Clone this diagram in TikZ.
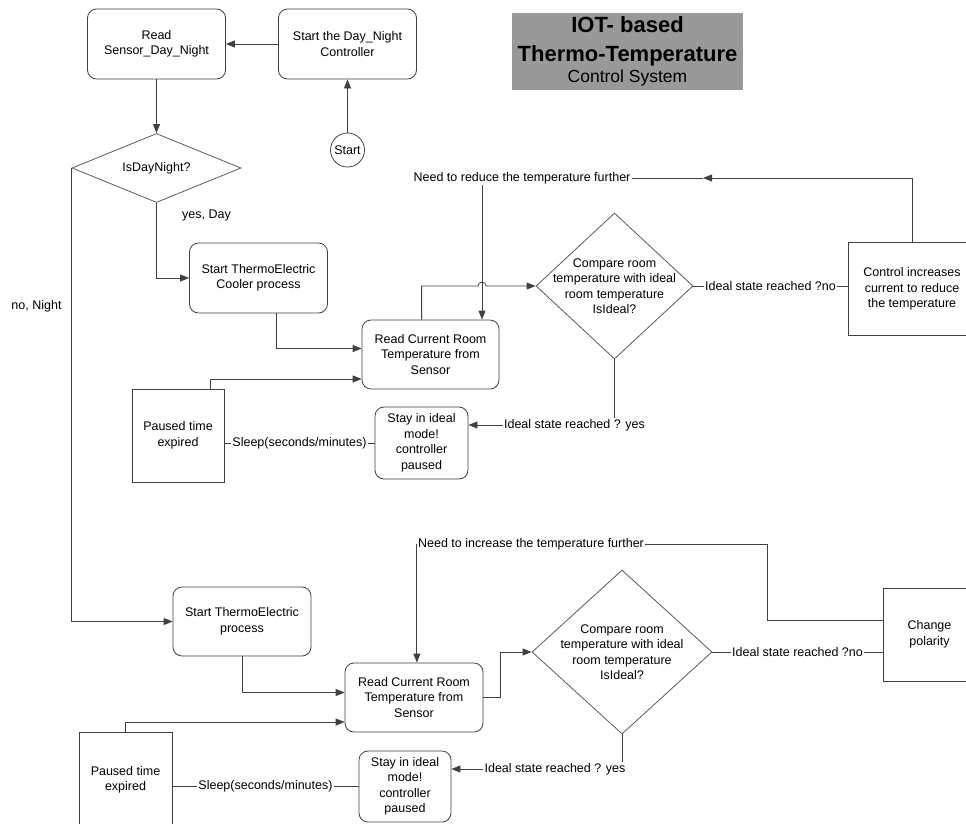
\documentclass[tikz,border=0pt]{standalone}
\usepackage{fontspec}
\setmainfont{Liberation Sans}
\usetikzlibrary{calc, positioning, arrows.meta, shapes.geometric}
\tikzset{
    process/.style={rectangle, rounded corners=9pt, draw=black!75, line width=0.8pt, fill=white, align=center, minimum width=138pt, minimum height=70pt, inner sep=2pt},
    event/.style={rectangle, draw=black!75, line width=0.8pt, fill=white, align=center, minimum width=92pt, minimum height=93pt, inner sep=2pt},
    cond/.style={diamond, draw=black!65, line width=0.8pt, fill=white, inner sep=0pt},
    term/.style={circle, draw=black!75, line width=0.8pt, fill=white, minimum size=34pt, inner sep=0pt},
    note/.style={fill=white, inner sep=1pt, align=center},
    arrow/.style={-{Triangle[length=9pt, width=7pt]}, draw=black!75, line width=0.8pt},
    wire/.style={draw=black!75, line width=0.8pt},
    title/.style={rectangle, fill=black!40, minimum width=231pt, minimum height=77pt, align=center, inner sep=0pt, font=\fontsize{22}{29}\selectfont\bfseries}
}
\begin{document}
\begin{tikzpicture}[x=1pt, y=-1pt, font=\fontsize{12.5}{15.5}\selectfont]
    \useasboundingbox (0,0) rectangle (966,823);

    % Title
    \node[title] (ttl) at (627.5,51.5) {IOT- based\\Thermo-Temperature\\[-7.5pt]\fontsize{17.5}{22}\selectfont\mdseries Control System};

    % Day / Night selection
    \node[process] (read) at (156.5,44) {Read\\Sensor\_Day\_Night};
    \node[process] (ctrl) at (347.5,44) {Start the Day\_Night\\Controller};
    \node[term] (start) at (347.5,150) {Start};
    \node[cond, minimum width=169pt, minimum height=69pt, label={center:IsDayNight?}] (dn) at (156.5,168) {};
    \node (yesday) at (206.5,215) {yes, Day};
    \node (nonight) at (36.5,306) {no, Night};

    \draw[arrow] (start.north) -- (ctrl.south);
    \draw[arrow] (ctrl.west) -- (read.east);
    \draw[arrow] (read.south) -- (dn.north);

    % Day: cooling loop
    \node[process] (cool) at (258.5,278) {Start ThermoElectric\\Cooler process};
    \node[process, minimum width=137pt, minimum height=69pt] (read1) at (430.5,354.5) {Read Current Room\\Temperature from\\Sensor};
    \node[cond, minimum width=157pt, minimum height=146pt, label={[align=center]center:{Compare room\\temperature with ideal\\room temperature\\IsIdeal?}}] (cmp1) at (614.5,286) {};
    \node[event, minimum width=128pt] (ctl) at (912,289) {Control increases\\current to reduce\\the temperature};
    \node[event] (paused1) at (178,435.5) {Paused time\\expired};
    \node[process, minimum width=93pt, minimum height=72pt] (stay1) at (421.5,443) {Stay in ideal\\mode!\\controller\\paused};
    \node[note] (need1) at (522,178) {Need to reduce the temperature further};
    \node[note] (yes1) at (574.5,425) {Ideal state reached ? yes};
    \coordinate (hop1) at (482,286);
    \coordinate (mk1) at (703,178);

    \draw[arrow] (dn.south) |- (cool.west);
    \draw[arrow] ($(cool.south)+(18,0)$) |- ($(read1.west)+(0,-6)$);
    \draw[arrow] ($(read1.north west)+(60,0)$) |- ($(hop1)+(-4,0)$) arc[start angle=180, end angle=360, radius=4] -- (cmp1.west);
    \draw[wire] (cmp1.east) -- (cmp1.east -| ctl.west) node[midway, note] {Ideal state reached ?no};
    \draw[arrow] (ctl.north) |- (mk1);
    \draw[wire] (mk1) -- (need1.east);
    \draw[arrow] (need1.south -| hop1) -- (hop1 |- read1.north);
    \draw[wire] (cmp1.south) -- (cmp1.south |- yes1.north);
    \draw[arrow] (yes1.west) -- (yes1.west -| stay1.east);
    \draw[wire] (stay1.west) -- (stay1.west -| paused1.east) node[midway, note] {Sleep(seconds/minutes)};
    \draw[arrow] ($(paused1.north)+(32,0)$) |- ($(read1.west)+(0,24.5)$);

    % Night: heating loop
    \node[process, minimum height=69pt] (te) at (242,621.5) {Start ThermoElectric\\process};
    \node[process, minimum height=69pt] (read2) at (414,697.5) {Read Current Room\\Temperature from\\Sensor};
    \node[cond, minimum width=180pt, minimum height=164pt, label={[align=center]center:{Compare room\\temperature with ideal\\room temperature\\IsIdeal?}}] (cmp2) at (622,652) {};
    \node[event, minimum width=93pt] (pol) at (929.5,634.5) {Change\\polarity};
    \node[event, minimum width=93pt, minimum height=96pt] (paused2) at (125.5,780) {Paused time\\expired};
    \node[process, minimum width=92pt, minimum height=71pt] (stay2) at (405,786.5) {Stay in ideal\\mode!\\controller\\paused};
    \node[note] (need2) at (531,544) {Need to increase the temperature further};
    \node[note] (yes2) at (555,769) {Ideal state reached ? yes};
    \coordinate (bend2) at (767,620);

    \draw[arrow] (dn.west) |- (te.west);
    \draw[arrow] (te.south) |- ($(read2.west)+(0,-5)$);
    \draw[arrow] (read2.east) -- ++(17,0) |- (cmp2.west);
    \draw[wire] (cmp2.east) -- (cmp2.east -| pol.west) node[midway, note] {Ideal state reached ?no};
    \draw[wire] (need2.east) -| (bend2) -- (bend2 -| pol.west);
    \draw[arrow] (need2.west) -- (need2.west |- read2.north);
    \draw[wire] (cmp2.south) -- (cmp2.south |- yes2.north);
    \draw[arrow] (yes2.west) -- (yes2.west -| stay2.east);
    \draw[wire] (stay2.west) -- (stay2.west -| paused2.east) node[midway, note] {Sleep(seconds/minutes)};
    \draw[arrow] (paused2.north) |- ($(read2.west)+(0,24.5)$);
\end{tikzpicture}
\end{document}
